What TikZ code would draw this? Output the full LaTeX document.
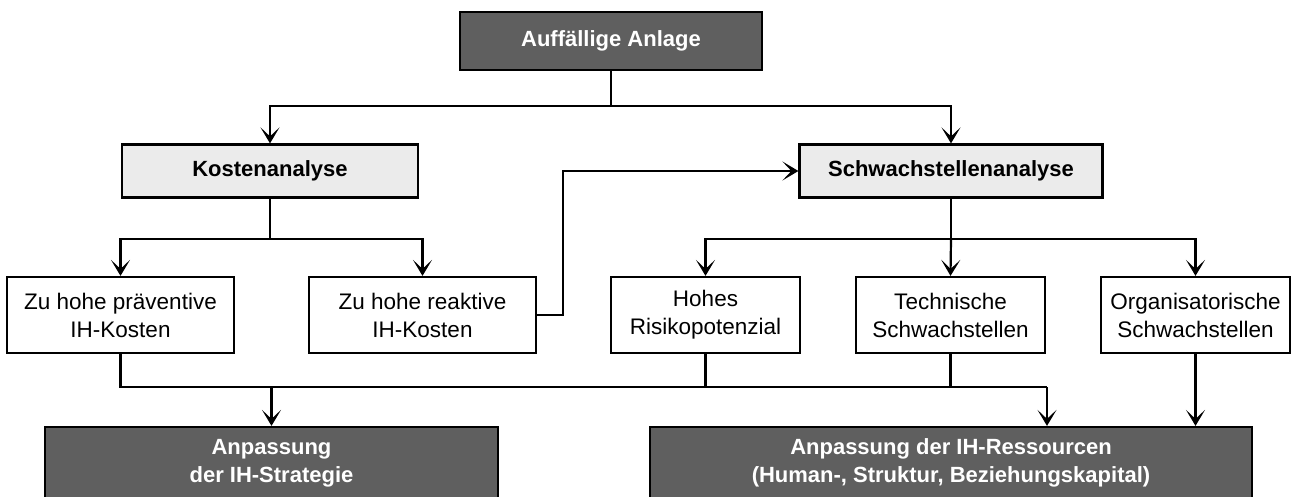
\documentclass[tikz,border=0pt]{standalone}
\usepackage{fontspec}
\setmainfont{Liberation Sans}
\usetikzlibrary{arrows.meta}
\definecolor{darkbox}{HTML}{5F5F5F}
\definecolor{lightbox}{HTML}{EBEBEB}
\begin{document}
\begin{tikzpicture}[x=1pt,y=-1pt,
  base/.style={draw=black,line width=2.2pt,align=center,inner sep=0pt,font=\fontsize{22.5}{28}\selectfont},
  darkb/.style={base,fill=darkbox,text=white,font=\fontsize{22}{28}\selectfont\bfseries},
  lightb/.style={base,fill=lightbox,font=\fontsize{22}{28}\selectfont\bfseries},
  whiteb/.style={base,fill=white,minimum width=189pt,minimum height=76pt},
  conn/.style={line width=2.2pt},
  arr/.style={conn,-{Stealth[length=16pt,width=19pt,inset=9pt]}}]
\useasboundingbox (0,0) rectangle (1292,497);
\node[darkb,minimum width=302pt,minimum height=58pt] (top) at (611,41) {Auffällige Anlage};
\node[lightb,minimum width=296pt,minimum height=53pt] (kosten) at (270,171) {Kostenanalyse};
\node[lightb,minimum width=303pt,minimum height=53pt] (schwach) at (951,171) {Schwachstellenanalyse};
\node[whiteb,minimum width=227pt] (b1) at (120.5,315) {Zu hohe präventive\\IH-Kosten};
\node[whiteb,minimum width=227pt] (b2) at (422.5,315) {Zu hohe reaktive\\IH-Kosten};
\node[whiteb] (b3) at (705.5,315) {Hohes\\Risikopotenzial};
\node[whiteb] (b4) at (950.5,315) {Technische\\Schwachstellen};
\node[whiteb] (b5) at (1195.5,315) {Organisatorische\\Schwachstellen};
\node[darkb,minimum width=453pt,minimum height=72pt] (out1) at (271.5,463) {Anpassung\\der IH-Strategie};
\node[darkb,minimum width=602pt,minimum height=72pt] (out2) at (951,463) {Anpassung der IH-Ressourcen\\(Human-, Struktur, Beziehungskapital)};
\coordinate (j1) at (611,106);
\coordinate (j2) at (270,239);
\coordinate (j3) at (951,239);
\coordinate (j4) at (563,315);
\coordinate (busL) at (120.5,387);
\coordinate (busR) at (1047,387);
\draw[arr] (top.south) -- (j1) -| (kosten.north);
\draw[arr] (j1) -| (schwach.north);
\draw[arr] (kosten.south) -- (j2) -| (b1.north);
\draw[arr] (j2) -| (b2.north);
\draw[arr] (b2.east) -- (j4) |- (schwach.west);
\draw[arr] (schwach.south) -- (j3) -| (b3.north);
\draw[arr] (j3) -- (b4.north);
\draw[arr] (j3) -| (b5.north);
\draw[conn] (b1.south) -- (busL) -- (busR);
\draw[conn] (b3.south) -- (b3.south |- busL);
\draw[conn] (b4.south) -- (b4.south |- busL);
\draw[arr] (busR) -- (busR |- out2.north);
\draw[arr] (out1.north |- busL) -- (out1.north);
\draw[arr] (b5.south) -- (b5.south |- out2.north);
\end{tikzpicture}
\end{document}
